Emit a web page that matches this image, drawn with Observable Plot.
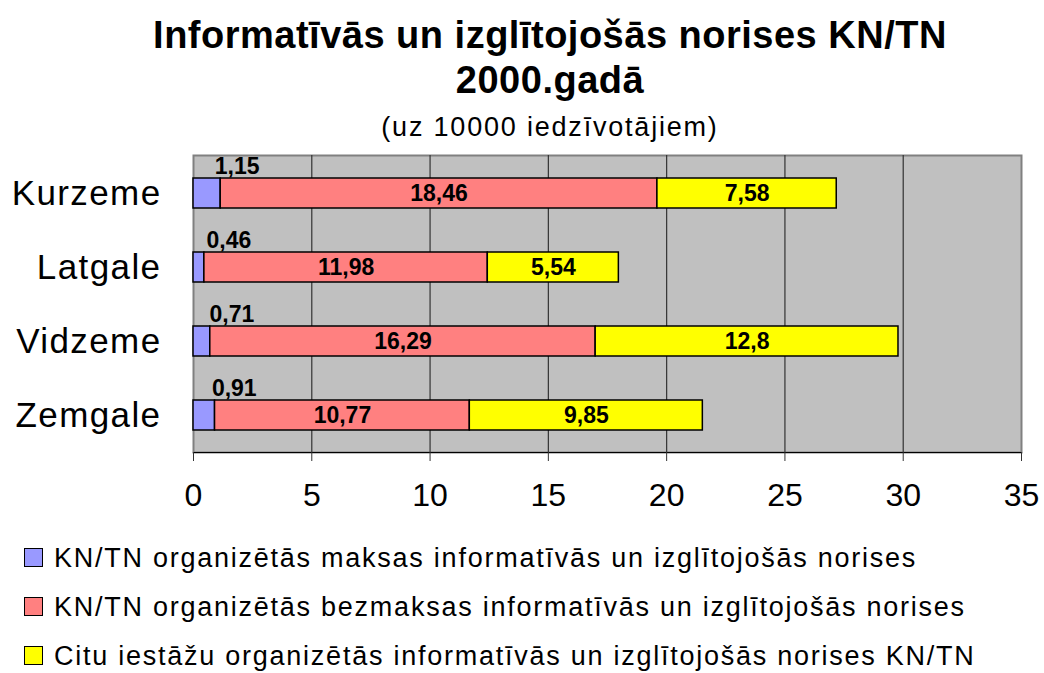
<!DOCTYPE html>
<html><head><meta charset="utf-8">
<script src="https://cdn.jsdelivr.net/npm/d3@7"></script>
<script src="https://cdn.jsdelivr.net/npm/@observablehq/plot@0.6"></script>
<style>
body{margin:0;background:#fff;font-family:"Liberation Sans",Arial,sans-serif;}
#wrap{position:relative;width:1044px;height:673px;overflow:hidden;}
.t{position:absolute;left:0;width:1100px;text-align:center;color:#000;}
#legend{position:absolute;left:0;top:0;}
.li{position:absolute;left:24px;white-space:nowrap;font-size:27px;line-height:30px;letter-spacing:1.75px;}
.sw{position:absolute;left:0;top:5px;width:17px;height:17px;border:1.5px solid #000;}
.lt{position:absolute;left:30px;top:0;}
</style></head>
<body><div id="wrap">
<div class="t" style="top:13px;font-size:38px;font-weight:bold;line-height:45px;letter-spacing:0.5px;">Informatīvās un izglītojošās norises KN/TN<br>2000.gadā</div>
<div class="t" style="top:111px;font-size:27px;line-height:32px;letter-spacing:1.8px;">(uz 10000 iedzīvotājiem)</div>
<div id="chart" style="position:absolute;left:0;top:0;"></div>
<div id="legend"></div>
</div>
<script>
const regions = ["Kurzeme","Latgale","Vidzeme","Zemgale"];
const series = [
  "KN/TN organizētās maksas informatīvās un izglītojošās norises",
  "KN/TN organizētās bezmaksas informatīvās un izglītojošās norises",
  "Citu iestāžu organizētās informatīvās un izglītojošās norises KN/TN"
];
const paid = [1.15, 0.46, 0.71, 0.91];
const free = [18.46, 11.98, 16.29, 10.77];
const other = [7.58, 5.54, 12.8, 9.85];
const colors = ["#9999FF","#FF8080","#FFFF00"];
const xTicks = [0,5,10,15,20,25,30,35];

const vals = [paid, free, other];
const data = [];
regions.forEach((r,i)=>{
  let cum = 0;
  series.forEach((s,k)=>{
    const v = vals[k][i];
    data.push({region:r, series:s, value:v, start:cum, end:cum+v, mid:cum+v/2, k});
    cum += v;
  });
});
const fmt = v => String(v).replace(".", ",");

const chart = Plot.plot({
  width:1044, height:673,
  marginTop:155, marginBottom:221, marginLeft:193, marginRight:23,
  style:{fontFamily:"'Liberation Sans',Arial,sans-serif", background:"transparent", color:"#000"},
  x:{domain:[0,35], ticks:xTicks},
  y:{domain:regions, paddingInner:0.6, paddingOuter:0.3},
  color:{domain:series, range:colors},
  marks:[
    Plot.frame({fill:"#C0C0C0", stroke:"#808080", strokeWidth:2}),
    Plot.ruleX(xTicks.slice(1,-1), {stroke:"#333", strokeWidth:1.2}),
    Plot.barX(data, {y:"region", x1:"start", x2:"end", fill:"series", stroke:"#000", strokeWidth:1.5}),
    Plot.text(data.filter(d=>d.k>0), {y:"region", x:"mid", text:d=>fmt(d.value), fontSize:23, fontWeight:"bold", fill:"#000"}),
    Plot.text(data.filter(d=>d.k===0), {y:"region", x:"mid", text:d=>fmt(d.value), fontSize:23, fontWeight:"bold", fill:"#000", dx:30, dy:-27}),
    Plot.frame({anchor:"bottom", stroke:"#000", strokeWidth:1.2}),
    Plot.axisX({ticks:xTicks, tickSize:9, tickPadding:22, fontSize:32, label:null, tickFormat:d=>String(d), stroke:"#333"}),
    Plot.axisY({tickSize:0, tickPadding:32, fontSize:35, label:null})
  ]
});
chart.querySelectorAll('g[aria-label="y-axis tick label"] text').forEach(t=>t.style.letterSpacing="1.4px");
document.getElementById("chart").appendChild(chart);

const lg = document.getElementById("legend");
series.forEach((s,k)=>{
  const d = document.createElement("div");
  d.className = "li";
  d.style.top = [543,592,641][k] + "px";
  d.innerHTML = `<span class="sw" style="background:${colors[k]}"></span><span class="lt">${s}</span>`;
  lg.appendChild(d);
});
</script>
</body></html>
